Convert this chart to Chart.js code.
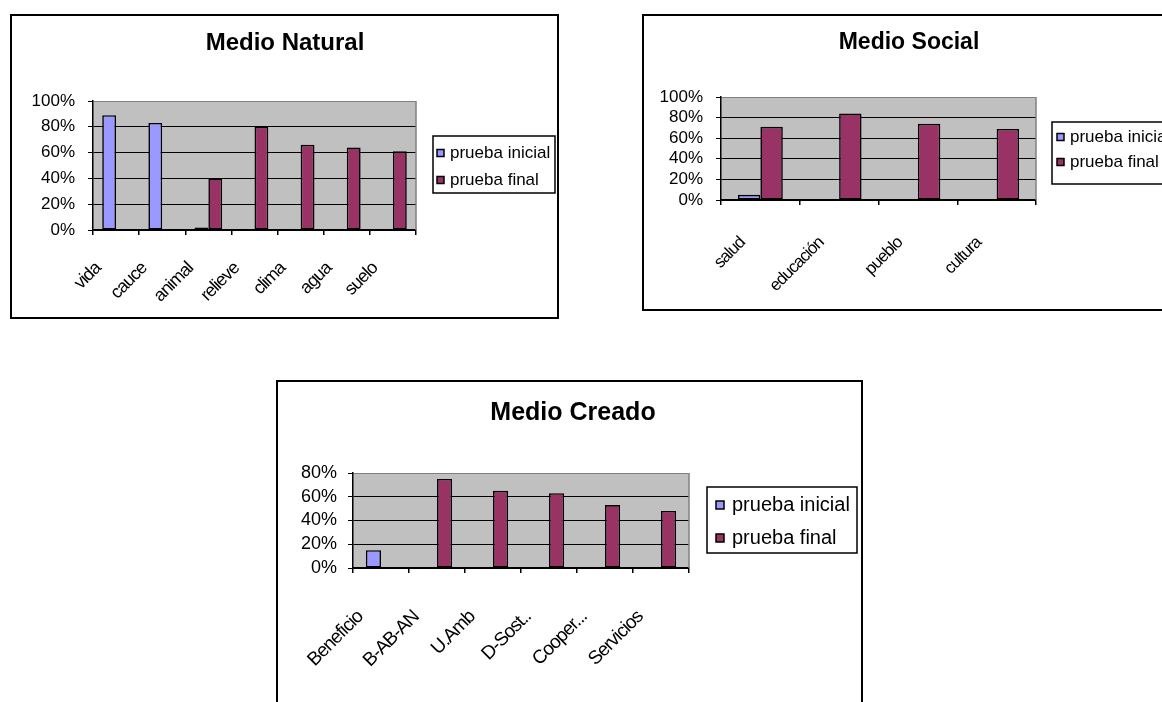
<!DOCTYPE html>
<html lang="es">
<head>
  <meta charset="UTF-8">
  <title>Medio Natural, Social y Creado</title>
  <script src="https://cdn.jsdelivr.net/npm/chart.js"></script>
  <style>
    body {
      margin: 0;
      width: 1162px;
      height: 702px;
      overflow: hidden;
      position: relative;
      background: #fff;
    }
    .box {
      position: absolute;
      border: 2px solid #000;
      background: #fff;
    }
    .box canvas { display: block; }
  </style>
</head>
<body>
  <div class="box" style="left:10px; top:14px;"><canvas id="natural" width="545" height="301"></canvas></div>
  <div class="box" style="left:642px; top:14px;"><canvas id="social" width="530" height="293"></canvas></div>
  <div class="box" style="left:276px; top:380px;"><canvas id="creado" width="583" height="336"></canvas></div>

  <script>
    const serieNames = ['prueba inicial', 'prueba final'];
    const serieColors = ['#9999ff', '#993366'];

    const naturalLabels = ['vida', 'cauce', 'animal', 'relieve', 'clima', 'agua', 'suelo'];
    const naturalInicial = [89, 83, 2, null, null, null, null];
    const naturalFinal = [null, null, 40, 80, 66, 64, 61];

    const socialLabels = ['salud', 'educación', 'pueblo', 'cultura'];
    const socialInicial = [5, null, null, null];
    const socialFinal = [71, 84, 74, 69];

    const creadoLabels = ['Beneficio', 'B-AB-AN', 'U.Amb', 'D-Sost..', 'Cooper...', 'Servicios'];
    const creadoInicial = [15, null, null, null, null, null];
    const creadoFinal = [null, 75, 65, 63, 53, 48];

    const FONT = "'Liberation Sans', Arial, sans-serif";
    Chart.defaults.font.family = FONT;
    Chart.defaults.color = '#000';

    // grey plot area, grey right edge, title and boxed legend like the old Excel charts
    const excelFrame = {
      id: 'excelFrame',
      beforeDraw(chart, args, o) {
        const { ctx, chartArea: a } = chart;
        // squeeze the category labels a bit, the original ones are condensed
        const xs = chart.scales.x;
        if (xs && !xs._squeezed) {
          const drawLabels = xs.drawLabels;
          xs.drawLabels = function (area) {
            const prev = this.ctx.letterSpacing;
            this.ctx.letterSpacing = o.xSpacing;
            drawLabels.call(this, area);
            this.ctx.letterSpacing = prev;
          };
          xs._squeezed = true;
        }
        ctx.save();
        ctx.fillStyle = '#c0c0c0';
        ctx.fillRect(a.left, a.top, a.right - a.left, a.bottom - a.top);
        ctx.restore();
      },
      afterDraw(chart, args, o) {
        const { ctx, chartArea: a } = chart;
        ctx.save();
        ctx.strokeStyle = '#808080';
        ctx.lineWidth = 1.5;
        ctx.beginPath();
        ctx.moveTo(a.right, a.top);
        ctx.lineTo(a.right, a.bottom);
        ctx.stroke();

        ctx.fillStyle = '#000';
        ctx.font = 'bold ' + o.titleSize + 'px ' + FONT;
        ctx.textAlign = 'center';
        ctx.textBaseline = 'middle';
        ctx.fillText(o.title, o.titleX, o.titleY);

        const L = o.legend;
        ctx.strokeStyle = '#000';
        ctx.lineWidth = 1.5;
        ctx.strokeRect(L.x, L.y, L.w, L.h);
        ctx.font = L.size + 'px ' + FONT;
        ctx.textAlign = 'left';
        chart.data.datasets.forEach((ds, i) => {
          const y = L.rows[i];
          ctx.fillStyle = ds.backgroundColor;
          ctx.fillRect(L.sx, y - L.sw / 2, L.sw, L.sw);
          ctx.strokeRect(L.sx, y - L.sw / 2, L.sw, L.sw);
          ctx.fillStyle = '#000';
          ctx.fillText(ds.label, L.tx, y);
        });
        ctx.restore();
      }
    };

    function makeChart(id, cfg) {
      const canvas = document.getElementById(id);
      const W = canvas.width, H = canvas.height;
      const datasets = [cfg.inicial, cfg.final].map((values, i) => ({
        label: serieNames[i],
        data: values,
        backgroundColor: serieColors[i],
        borderColor: '#000',
        borderWidth: 1.6,
        borderSkipped: false
      }));

      return new Chart(canvas, {
        type: 'bar',
        data: { labels: cfg.labels, datasets: datasets },
        options: {
          responsive: false,
          animation: false,
          devicePixelRatio: 1,
          categoryPercentage: cfg.catPct,
          barPercentage: 1,
          layout: { padding: { top: cfg.plot.top, right: W - cfg.plot.right, left: 0, bottom: 0 } },
          plugins: {
            legend: { display: false },
            title: { display: false },
            tooltip: { enabled: false },
            excelFrame: {
              title: cfg.title, titleX: cfg.titleX, titleY: cfg.titleY, titleSize: cfg.titleSize,
              legend: cfg.legend, xSpacing: '-1px'
            }
          },
          scales: {
            x: {
              grid: { display: true, drawOnChartArea: false, offset: true, tickLength: 5, color: '#000', lineWidth: 1.5 },
              border: { color: '#000', width: 1.5 },
              ticks: {
                autoSkip: false,
                minRotation: 45,
                maxRotation: 45,
                padding: cfg.xPad,
                labelOffset: cfg.xOffset,
                font: { size: cfg.xSize }
              },
              afterFit: s => { s.height = H - cfg.plot.bottom; }
            },
            y: {
              min: 0,
              max: cfg.max,
              ticks: {
                autoSkip: false,
                stepSize: 20,
                padding: cfg.yPad,
                font: { size: cfg.ySize, lineHeight: 1 },
                callback: v => v + '%'
              },
              grid: {
                color: c => (c.tick && c.tick.value === cfg.max) ? '#808080' : '#000',
                tickColor: '#000',
                tickLength: 5,
                lineWidth: 1
              },
              border: { color: '#000', width: 1.5 },
              afterFit: s => { s.width = cfg.plot.left; }
            }
          }
        },
        plugins: [excelFrame]
      });
    }

    makeChart('natural', {
      labels: naturalLabels, inicial: naturalInicial, final: naturalFinal, max: 100,
      plot: { left: 81, right: 404, top: 85, bottom: 214 },
      title: 'Medio Natural', titleX: 273, titleY: 27, titleSize: 24,
      legend: { x: 421, y: 120, w: 122, h: 57, rows: [137, 164], sx: 425, sw: 7, tx: 438, size: 17 },
      catPct: 0.6, ySize: 17, yPad: 13, xSize: 18, xPad: 23, xOffset: -18
    });

    makeChart('social', {
      labels: socialLabels, inicial: socialInicial, final: socialFinal, max: 100,
      plot: { left: 77, right: 392, top: 81, bottom: 184 },
      title: 'Medio Social', titleX: 265, titleY: 27, titleSize: 23,
      legend: { x: 408, y: 106, w: 124, h: 62, rows: [121, 146], sx: 413, sw: 7, tx: 426, size: 17 },
      catPct: 0.57, ySize: 17, yPad: 13, xSize: 17, xPad: 28, xOffset: -18
    });

    makeChart('creado', {
      labels: creadoLabels, inicial: creadoInicial, final: creadoFinal, max: 80,
      plot: { left: 75, right: 411, top: 91, bottom: 186 },
      title: 'Medio Creado', titleX: 295, titleY: 31, titleSize: 25,
      legend: { x: 429, y: 105, w: 150, h: 66, rows: [123, 156], sx: 438, sw: 8, tx: 454, size: 20 },
      catPct: 0.54, ySize: 18, yPad: 11, xSize: 19, xPad: 33, xOffset: -21
    });
  </script>
</body>
</html>
